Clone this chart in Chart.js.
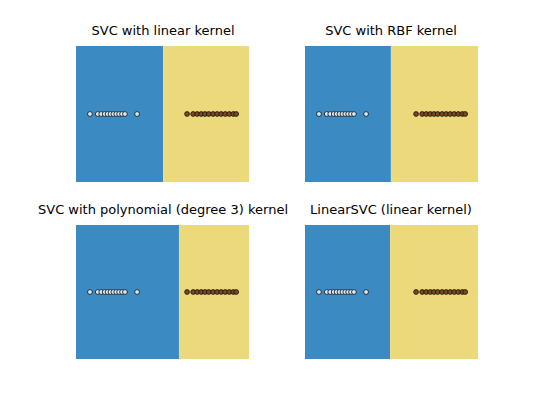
<!DOCTYPE html>
<html><head><meta charset="utf-8">
<script src="https://cdn.jsdelivr.net/npm/chart.js@4"></script>
<style>
body{margin:0;background:#fff;width:540px;height:407px;position:relative;font-family:'DejaVu Sans',sans-serif}
.t{position:absolute;font-size:13px;color:#000;text-align:center;white-space:nowrap}
.p{position:absolute}
</style></head><body>
<script>
// 1-D training points (y fixed at 0)
const xNeg = [-2.51,-2.24,-2.12,-2.0,-1.9,-1.8,-1.7,-1.6,-1.5,-1.4,-1.3,-0.88];
const xPos = [0.85,1.06,1.2,1.34,1.47,1.6,1.75,1.89,2.03,2.17,2.31,2.45,2.55];
const titles = ['SVC with linear kernel','SVC with RBF kernel','SVC with polynomial (degree 3) kernel','LinearSVC (linear kernel)'];
const bounds = [0.02,-0.02,0.57,-0.05];
const boxes = [[76,46,173,136],[305,46,173,136],[76,225,173,134],[305,225,173,134]];
const tx = [[163,31],[391,31],[163,210],[391,210]];
const pad = 5;

titles.forEach((title,i)=>{
  const [l,t,w,h] = boxes[i];
  const lab = document.createElement('div');
  lab.className='t'; lab.textContent=title;
  lab.style.left=(tx[i][0]-150)+'px'; lab.style.width='300px'; lab.style.top=(tx[i][1]-8)+'px';
  document.body.appendChild(lab);
  const d = document.createElement('div');
  d.className='p'; d.style.left=(l-pad)+'px'; d.style.top=(t-pad)+'px';
  d.style.width=(w+2*pad)+'px'; d.style.height=(h+2*pad)+'px';
  const c = document.createElement('canvas'); d.appendChild(c); document.body.appendChild(d);
  const b = bounds[i];
  new Chart(c,{type:'scatter',data:{datasets:[
    {data:[{x:-3,y:2},{x:b,y:2}],showLine:true,fill:'start',backgroundColor:'#3b8bc2',borderWidth:0,pointRadius:0,order:2},
    {data:[{x:b,y:2},{x:3,y:2}],showLine:true,fill:'start',backgroundColor:'#ecd97c',borderWidth:0,pointRadius:0,order:2},
    {data:xNeg.map(x=>({x,y:1})),pointRadius:2.4,backgroundColor:'#d6e9f7',borderColor:'#111',borderWidth:0.8,order:0},
    {data:xPos.map(x=>({x,y:1})),pointRadius:2.4,backgroundColor:'#7b4a1c',borderColor:'#111',borderWidth:0.8,order:0}
  ]},options:{responsive:true,maintainAspectRatio:false,animation:false,
    layout:{padding:0},
    plugins:{legend:{display:false},tooltip:{enabled:false}},
    scales:{x:{type:'linear',min:-3,max:3,display:false},y:{min:0,max:2,display:false}}}});
});
</script>
</body></html>
